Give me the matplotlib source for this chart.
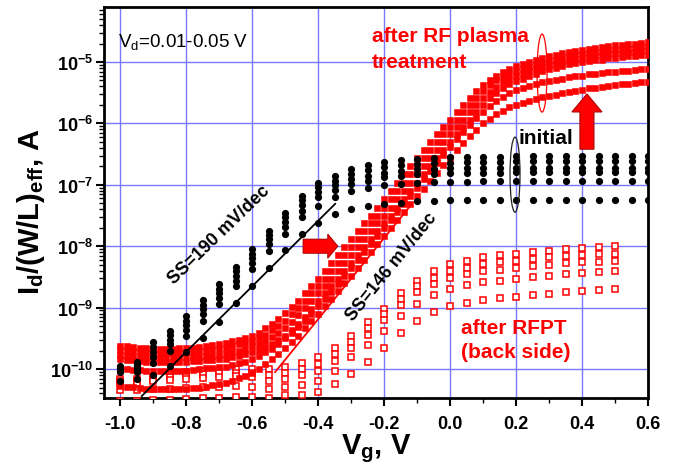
import numpy as np
import matplotlib
matplotlib.use('Agg')
import matplotlib.pyplot as plt
from matplotlib.patches import Polygon, Ellipse
from matplotlib.ticker import FixedLocator, LogLocator, NullFormatter, FuncFormatter, MultipleLocator

plt.rcParams['font.family'] = ['Liberation Sans', 'DejaVu Sans']
plt.rcParams['mathtext.fontset'] = 'custom'
plt.rcParams['mathtext.rm'] = 'Liberation Sans'
plt.rcParams['mathtext.bf'] = 'Liberation Sans:bold'
plt.rcParams['mathtext.it'] = 'Liberation Sans:italic'
plt.rcParams['mathtext.sf'] = 'Liberation Sans'
plt.rcParams['axes.unicode_minus'] = False

# ---------------- data (log10 of Id/(W/L)eff, A) ----------------
# initial: filled black circles, Vg step 0.05 V from -1.0 to 0.6
vg_init = np.linspace(-1.0, 0.6, 33)
init_1 = [-9.95, -9.88, -9.56, -9.38, -9.14, -8.88, -8.62, -8.34, -8.05, -7.75,
          -7.46, -7.18, -6.97, -6.85, -6.74, -6.68, -6.63, -6.60, -6.58, -6.56,
          -6.55, -6.54, -6.54, -6.54, -6.53, -6.53, -6.53, -6.53, -6.53, -6.53, -6.53, -6.53, -6.53]
init_2 = [-9.98, -9.93, -9.64, -9.45, -9.21, -8.95, -8.69, -8.41, -8.12, -7.82,
          -7.53, -7.25, -7.04, -6.93, -6.82, -6.76, -6.71, -6.68, -6.66, -6.65,
          -6.64, -6.63, -6.63, -6.63, -6.62, -6.62, -6.62, -6.62, -6.62, -6.62, -6.62, -6.62, -6.62]
init_3 = [-10.00, -9.96, -9.72, -9.52, -9.28, -9.02, -8.76, -8.48, -8.19, -7.89,
          -7.60, -7.33, -7.12, -7.01, -6.91, -6.85, -6.80, -6.77, -6.75, -6.74,
          -6.73, -6.73, -6.73, -6.72, -6.72, -6.72, -6.72, -6.72, -6.72, -6.72, -6.72, -6.72, -6.72]
init_4 = [-10.03, -10.00, -9.80, -9.60, -9.36, -9.10, -8.84, -8.56, -8.27, -7.97,
          -7.68, -7.42, -7.20, -7.09, -6.99, -6.93, -6.88, -6.85, -6.83, -6.82,
          -6.81, -6.80, -6.80, -6.80, -6.79, -6.79, -6.79, -6.79, -6.79, -6.79, -6.79, -6.79, -6.79]
init_5 = [-10.05, -10.05, -9.90, -9.70, -9.46, -9.22, -8.94, -8.65, -8.37, -8.08,
          -7.80, -7.52, -7.35, -7.20, -7.10, -7.05, -7.01, -6.99, -6.97, -6.96,
          -6.95, -6.95, -6.94, -6.94, -6.94, -6.94, -6.94, -6.94, -6.94, -6.94, -6.94, -6.94, -6.94]
init_6 = [-10.20, -10.16, -10.10, -9.95, -9.72, -9.50, -9.23, -8.93, -8.65, -8.35,
          -8.06, -7.80, -7.62, -7.47, -7.40, -7.35, -7.31, -7.29, -7.27, -7.26,
          -7.25, -7.25, -7.25, -7.25, -7.25, -7.25, -7.25, -7.25, -7.25, -7.25, -7.25, -7.25, -7.25]
initial_curves = [init_1, init_2, init_3, init_4, init_5, init_6]

# after RF plasma treatment: filled red squares, Vg step 0.02 V from -1.0 to 0.6
vg_rf = np.linspace(-1.0, 0.6, 81)
rf_1 = [-9.62, -9.63, -9.64, -9.65, -9.66, -9.67, -9.67, -9.67, -9.67, -9.66,
        -9.66, -9.65, -9.64, -9.63, -9.61, -9.59, -9.57, -9.55, -9.52, -9.49,
        -9.46, -9.41, -9.34, -9.27, -9.19, -9.09, -8.99, -8.89, -8.77, -8.65,
        -8.53, -8.41, -8.28, -8.15, -8.02, -7.89, -7.76, -7.63, -7.50, -7.37,
        -7.23, -7.10, -6.97, -6.83, -6.70, -6.57, -6.44, -6.31, -6.18, -6.06,
        -5.94, -5.82, -5.70, -5.59, -5.48, -5.38, -5.29, -5.22, -5.16, -5.11,
        -5.07, -5.03, -5.00, -4.97, -4.94, -4.91, -4.89, -4.86, -4.84, -4.82,
        -4.80, -4.79, -4.77, -4.76, -4.74, -4.73, -4.72, -4.71, -4.70, -4.69,
        -4.68]
rf_2 = [-9.69, -9.70, -9.71, -9.72, -9.73, -9.73, -9.74, -9.74, -9.74, -9.73,
        -9.73, -9.72, -9.71, -9.70, -9.69, -9.67, -9.65, -9.63, -9.60, -9.57,
        -9.54, -9.50, -9.44, -9.37, -9.30, -9.21, -9.11, -9.00, -8.89, -8.77,
        -8.65, -8.53, -8.41, -8.28, -8.15, -8.02, -7.89, -7.76, -7.63, -7.50,
        -7.37, -7.23, -7.10, -6.97, -6.83, -6.70, -6.57, -6.44, -6.31, -6.18,
        -6.06, -5.94, -5.82, -5.70, -5.59, -5.48, -5.38, -5.30, -5.24, -5.19,
        -5.15, -5.11, -5.08, -5.05, -5.01, -4.98, -4.96, -4.93, -4.91, -4.89,
        -4.87, -4.86, -4.84, -4.83, -4.81, -4.80, -4.79, -4.78, -4.77, -4.75,
        -4.74]
rf_3 = [-9.77, -9.78, -9.79, -9.80, -9.81, -9.81, -9.82, -9.82, -9.82, -9.81,
        -9.81, -9.80, -9.80, -9.79, -9.78, -9.77, -9.75, -9.73, -9.70, -9.67,
        -9.63, -9.59, -9.54, -9.48, -9.41, -9.33, -9.23, -9.12, -9.00, -8.89,
        -8.77, -8.65, -8.53, -8.41, -8.28, -8.15, -8.02, -7.89, -7.76, -7.63,
        -7.50, -7.37, -7.23, -7.10, -6.97, -6.83, -6.70, -6.57, -6.44, -6.31,
        -6.18, -6.06, -5.94, -5.82, -5.70, -5.59, -5.49, -5.40, -5.33, -5.27,
        -5.23, -5.19, -5.15, -5.12, -5.08, -5.05, -5.03, -5.00, -4.97, -4.95,
        -4.93, -4.92, -4.90, -4.89, -4.87, -4.86, -4.85, -4.84, -4.83, -4.82,
        -4.81]
rf_4 = [-9.84, -9.85, -9.86, -9.87, -9.88, -9.88, -9.89, -9.89, -9.89, -9.88,
        -9.88, -9.87, -9.87, -9.86, -9.85, -9.84, -9.83, -9.81, -9.79, -9.76,
        -9.73, -9.69, -9.64, -9.59, -9.53, -9.46, -9.37, -9.27, -9.15, -9.02,
        -8.90, -8.77, -8.65, -8.53, -8.41, -8.28, -8.15, -8.02, -7.89, -7.76,
        -7.63, -7.50, -7.37, -7.23, -7.10, -6.97, -6.83, -6.70, -6.57, -6.44,
        -6.31, -6.18, -6.06, -5.94, -5.82, -5.70, -5.59, -5.50, -5.42, -5.36,
        -5.31, -5.27, -5.23, -5.19, -5.15, -5.12, -5.09, -5.07, -5.04, -5.02,
        -5.00, -4.99, -4.97, -4.96, -4.94, -4.93, -4.92, -4.91, -4.90, -4.89,
        -4.88]
rf_5 = [-9.99, -10.00, -10.01, -10.02, -10.03, -10.03, -10.04, -10.04, -10.04, -10.03,
        -10.03, -10.02, -10.00, -9.99, -9.99, -9.97, -9.96, -9.94, -9.91, -9.88,
        -9.84, -9.79, -9.73, -9.67, -9.59, -9.50, -9.41, -9.31, -9.21, -9.10,
        -8.98, -8.86, -8.74, -8.61, -8.48, -8.35, -8.22, -8.10, -7.97, -7.84,
        -7.70, -7.57, -7.44, -7.31, -7.18, -7.05, -6.91, -6.78, -6.65, -6.52,
        -6.39, -6.26, -6.14, -6.02, -5.91, -5.81, -5.72, -5.64, -5.57, -5.51,
        -5.46, -5.42, -5.39, -5.36, -5.33, -5.31, -5.29, -5.27, -5.25, -5.23,
        -5.22, -5.20, -5.19, -5.18, -5.17, -5.16, -5.15, -5.14, -5.13, -5.12,
        -5.11]
rf_6 = [-10.28, -10.29, -10.30, -10.31, -10.32, -10.32, -10.33, -10.33, -10.33, -10.32,
        -10.32, -10.31, -10.31, -10.30, -10.26, -10.24, -10.22, -10.19, -10.15, -10.11,
        -10.06, -10.00, -9.92, -9.84, -9.75, -9.66, -9.56, -9.46, -9.34, -9.22,
        -9.10, -8.98, -8.86, -8.73, -8.60, -8.48, -8.35, -8.23, -8.10, -7.97,
        -7.84, -7.71, -7.58, -7.45, -7.32, -7.19, -7.06, -6.94, -6.81, -6.68,
        -6.56, -6.44, -6.32, -6.21, -6.10, -6.00, -5.92, -5.85, -5.79, -5.74,
        -5.70, -5.66, -5.63, -5.60, -5.57, -5.55, -5.53, -5.51, -5.49, -5.47,
        -5.45, -5.43, -5.42, -5.40, -5.39, -5.38, -5.36, -5.35, -5.34, -5.33,
        -5.32]
rf_curves = [rf_1, rf_2, rf_3, rf_4, rf_5, rf_6]

# after RFPT (back side): open red squares, Vg step 0.05 V from -1.0 to 0.5
vg_back = np.linspace(-1.0, 0.5, 31)
back_1 = [-10.17, -10.16, -10.12, -10.08, -10.05, -10.03, -10.01, -10.00, -10.00, -10.00,
          -9.97, -9.90, -9.81, -9.65, -9.46, -9.24, -9.02, -8.76, -8.56, -8.40,
          -8.29, -8.24, -8.18, -8.15, -8.12, -8.10, -8.07, -8.05, -8.03, -8.01, -7.99]
back_2 = [-10.20, -10.19, -10.16, -10.13, -10.10, -10.08, -10.07, -10.06, -10.06, -10.10,
          -10.07, -10.00, -9.92, -9.76, -9.56, -9.34, -9.10, -8.86, -8.65, -8.51,
          -8.40, -8.35, -8.29, -8.26, -8.24, -8.21, -8.18, -8.16, -8.15, -8.13, -8.12]
back_3 = [-10.23, -10.22, -10.20, -10.18, -10.16, -10.14, -10.13, -10.12, -10.13, -10.20,
          -10.17, -10.10, -10.03, -9.87, -9.65, -9.45, -9.20, -8.96, -8.75, -8.62,
          -8.51, -8.45, -8.40, -8.38, -8.36, -8.33, -8.30, -8.28, -8.26, -8.25, -8.24]
back_4 = [-10.34, -10.34, -10.33, -10.32, -10.31, -10.30, -10.29, -10.28, -10.29, -10.33,
          -10.30, -10.26, -10.19, -10.03, -9.81, -9.61, -9.38, -9.14, -8.94, -8.79,
          -8.70, -8.63, -8.59, -8.56, -8.53, -8.50, -8.48, -8.46, -8.44, -8.42, -8.40]
back_5 = [-10.52, -10.52, -10.50, -10.50, -10.49, -10.48, -10.47, -10.46, -10.46, -10.48,
          -10.42, -10.42, -10.38, -10.24, -10.08, -9.88, -9.65, -9.41, -9.21, -9.07,
          -8.98, -8.93, -8.88, -8.85, -8.82, -8.80, -8.78, -8.75, -8.73, -8.71, -8.69]
back_curves = [back_1, back_2, back_3, back_4, back_5]

# subthreshold-swing fit lines (Vg, log10 I)
ss190_vg = [-0.934, -0.348]
ss190_log = [-10.44, -7.31]
ss146_vg = [-0.530, -0.12]
ss146_log = [-10.05, -7.34]

x_ticks = [-1.0, -0.8, -0.6, -0.4, -0.2, 0.0, 0.2, 0.4, 0.6]
y_ticks = [1e-10, 1e-9, 1e-8, 1e-7, 1e-6, 1e-5]

# ---------------- figure ----------------
W, H = 677, 477
fig = plt.figure(figsize=(W / 100, H / 100), dpi=100)
ax = fig.add_axes([104 / W, 78 / H, 544 / W, 391 / H])
ax.set_yscale('log')
ax.set_xlim(-1.0485, 0.6)
ax.set_ylim(10 ** -10.472, 10 ** -4.104)
ax.set_axisbelow(True)
ax.grid(True, which='major', color='#7878ff', lw=1.0)

RED = '#ff0000'
for c in back_curves:
    ax.plot(vg_back, 10 ** np.array(c), 's', ms=4.9, mfc='white', mec=RED, mew=1.1,
            ls='none', zorder=3)
for c in rf_curves:
    ax.plot(vg_rf, 10 ** np.array(c), 's', ms=4.5, mfc=RED, mec=RED, mew=0.4,
            ls='none', zorder=4)
for c in initial_curves:
    ax.plot(vg_init, 10 ** np.array(c), 'o', ms=5.2, mfc='black', mec='black', mew=0,
            ls='none', zorder=5)

ax.plot(ss190_vg, 10 ** np.array(ss190_log), color='black', lw=1.3, zorder=6)
ax.plot(ss146_vg, 10 ** np.array(ss146_log), color=RED, lw=1.3, zorder=3.5)

# axes styling
for s in ax.spines.values():
    s.set_linewidth(2.0)
ax.xaxis.set_major_locator(FixedLocator(x_ticks))
ax.xaxis.set_minor_locator(MultipleLocator(0.1))
ax.xaxis.set_major_formatter(FuncFormatter(lambda v, p: '%.1f' % v))
ax.yaxis.set_major_locator(FixedLocator(y_ticks))
ax.yaxis.set_minor_locator(LogLocator(base=10, subs=np.arange(2, 10)))
ax.yaxis.set_minor_formatter(NullFormatter())
ax.yaxis.set_major_formatter(FuncFormatter(
    lambda v, p: r'$\mathbf{10^{%d}}$' % int(round(np.log10(v)))))
ax.tick_params(which='major', direction='out', length=6, width=1.5, labelsize=13,
               top=False, right=False)
ax.tick_params(which='minor', direction='out', length=3.5, width=1.0, top=False, right=False)
ax.tick_params(axis='x', which='major', pad=6)
ax.tick_params(axis='y', which='major', pad=2)
for lab in ax.get_xticklabels():
    lab.set_fontweight('bold')

ax.set_xlabel(r'$\mathbf{V_g}$, V', fontsize=21, fontweight='bold')
ax.xaxis.set_label_coords(0.5, -0.085)
ax.set_ylabel(r'$\mathbf{I_d/(W/L)_{eff}}$, A', fontsize=21, fontweight='bold')
ax.yaxis.set_label_coords(-0.105, 0.48)

# texts
ax.text(-1.006, 10 ** -4.66, r'V$_{\rm d}$=0.01-0.05 V', fontsize=13.5, va='center', ha='left')
ax.text(-0.236, 10 ** -4.658, 'after RF plasma', color=RED, fontsize=15, fontweight='bold',
        va='baseline', ha='left')
ax.text(-0.236, 10 ** -5.08, 'treatment', color=RED, fontsize=15, fontweight='bold',
        va='baseline', ha='left')
ax.text(0.209, 10 ** -6.32, 'initial', color='black', fontsize=15, fontweight='bold',
        va='baseline', ha='left')
ax.text(0.033, 10 ** -9.41, 'after RFPT', color=RED, fontsize=15, fontweight='bold',
        va='baseline', ha='left')
ax.text(0.033, 10 ** -9.80, '(back side)', color=RED, fontsize=15, fontweight='bold',
        va='baseline', ha='left')
ax.text(-0.70, 10 ** -7.80, 'SS=190 mV/dec', fontsize=13, fontweight='bold', rotation=44,
        rotation_mode='anchor', ha='center', va='center')
ax.text(-0.177, 10 ** -8.32, 'SS=146 mV/dec', fontsize=13, fontweight='bold', rotation=51,
        rotation_mode='anchor', ha='center', va='center')

# annotations (arrows, ellipses) placed from data anchors with pixel-size shapes
fig.canvas.draw()
inv = fig.transFigure.inverted()


def pix(x, logy):
    return ax.transData.transform((x, 10 ** logy))


def to_fig(pts):
    return inv.transform(np.array(pts))


# right-pointing arrow
t = pix(-0.445, -8.0)
tip = pix(-0.34, -8.0)
hb = tip[0] - 10
pts = [(t[0], t[1] + 7), (hb, t[1] + 7), (hb, t[1] + 12), (tip[0], t[1]),
       (hb, t[1] - 12), (hb, t[1] - 7), (t[0], t[1] - 7)]
fig.patches.append(Polygon(to_fig(pts), closed=True, fc=RED, ec='#b00000', lw=0.8,
                           transform=fig.transFigure, zorder=10))
# upward arrow
b = pix(0.415, -6.42)
tp = pix(0.415, -5.52)
hb = tp[1] - 18
pts = [(b[0] - 7, b[1]), (b[0] - 7, hb), (b[0] - 15, hb), (b[0], tp[1]),
       (b[0] + 15, hb), (b[0] + 7, hb), (b[0] + 7, b[1])]
fig.patches.append(Polygon(to_fig(pts), closed=True, fc=RED, ec='#b00000', lw=0.8,
                           transform=fig.transFigure, zorder=10))

# ellipses
for (cx, cl, w, h, col) in [(0.279, -5.18, 10, 78, RED), (0.197, -6.835, 10, 75, '#202020')]:
    c = pix(cx, cl)
    cf = to_fig([c])[0]
    e = Ellipse(cf, w / W, h / H, fill=False, ec=col, lw=0.9, transform=fig.transFigure,
                zorder=11)
    fig.patches.append(e)

fig.savefig('out.png', dpi=100)
